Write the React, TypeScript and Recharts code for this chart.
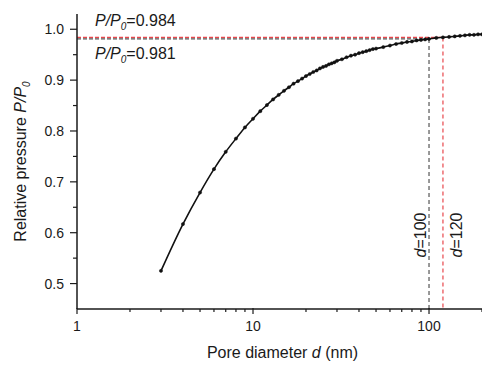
import React from 'react';
import { LineChart, Line, XAxis, YAxis, ReferenceLine } from 'recharts';

// pore diameter d (nm) and relative pressure
const diameters = [
    3, 4, 5, 6, 7, 8, 9, 10, 11, 12, 13, 14, 15, 16, 17, 18, 19, 20,
    21, 22, 23, 24, 25, 26, 27, 28, 29, 30, 32, 34, 36, 38, 40, 42, 44, 46, 48, 50,
    55, 60, 65, 70, 75, 80, 85, 90, 95, 100, 110, 120, 130, 140, 150, 160, 170, 180, 190, 200,
];
const pressures = [
    0.525, 0.617, 0.679, 0.725, 0.759, 0.785, 0.807, 0.824, 0.839, 0.851, 0.862, 0.871, 0.879, 0.886, 0.893, 0.898, 0.903, 0.908,
    0.912, 0.916, 0.919, 0.923, 0.926, 0.928, 0.931, 0.933, 0.935, 0.938, 0.941, 0.945, 0.948, 0.950, 0.953, 0.955, 0.957, 0.959, 0.961, 0.962,
    0.965, 0.968, 0.971, 0.973, 0.975, 0.976, 0.978, 0.979, 0.980, 0.981, 0.983, 0.984, 0.985, 0.986, 0.987, 0.988, 0.989, 0.989, 0.990, 0.990,
];

const xTicks = [1, 2, 3, 4, 5, 6, 7, 8, 9, 10, 20, 30, 40, 50, 60, 70, 80, 90, 100, 200];
const xLabels = [1, 10, 100];
const yTicks = [0.5, 0.55, 0.6, 0.65, 0.7, 0.75, 0.8, 0.85, 0.9, 0.95, 1.0];
const yLabels = [0.5, 0.6, 0.7, 0.8, 0.9, 1.0];

// d=100 text sits left of its line, d=120 text right of it
const cutoffs = [
    { d: 100, p: 0.981, color: '#555555', textDx: -3 },
    { d: 120, p: 0.984, color: '#e8474c', textDx: 19 },
];

const data = diameters.map((d, i) => ({ d, p: pressures[i] }));

const FONT = '"Liberation Sans", Arial, sans-serif';
const INK = '#1a1a1a';

const XTick = (props: any) => {
    const { x, y, payload } = props;
    const major = xLabels.includes(payload.value);
    return (
        <g>
            <line x1={x} x2={x} y1={y - (major ? 1 : 0)} y2={y + (major ? 5 : 3)} stroke={INK} strokeWidth={1.2} />
            {major && (
                <text x={x} y={y + 22} textAnchor="middle" fontSize={14} fontFamily={FONT} fill={INK}>
                    {payload.value}
                </text>
            )}
        </g>
    );
};

const YTick = (props: any) => {
    const { x, y, payload } = props;
    const major = yLabels.some((v) => Math.abs(v - payload.value) < 1e-6);
    return (
        <g>
            <line x1={x - (major ? 7 : 4)} x2={x} y1={y} y2={y} stroke={INK} strokeWidth={1.2} />
            {major && (
                <text x={x - 13} y={y + 5} textAnchor="end" fontSize={14} fontFamily={FONT} fill={INK}>
                    {payload.value.toFixed(1)}
                </text>
            )}
        </g>
    );
};

const PLabel = (value: string, above: boolean) => (props: any) => {
    const vb = props.viewBox || {};
    return (
        <text x={vb.x + 18} y={above ? vb.y - 11 : vb.y + 20} fontSize={16} fontFamily={FONT} fill={INK}>
            <tspan fontStyle="italic">P/P</tspan>
            <tspan fontStyle="italic" fontSize={10} dy={4}>0</tspan>
            <tspan dy={-4}>={value}</tspan>
        </text>
    );
};

const DLabel = (value: number, dx: number) => (props: any) => {
    const vb = props.viewBox || {};
    const cx = vb.x + dx;
    const cy = vb.y + vb.height - 74;
    return (
        <text x={cx} y={cy} transform={`rotate(-90, ${cx}, ${cy})`} textAnchor="middle" fontSize={16} fontFamily={FONT} fill={INK}>
            <tspan fontStyle="italic">d</tspan>={value}
        </text>
    );
};

const YTitle = (props: any) => {
    const vb = props.viewBox || {};
    const cx = 26;
    const cy = vb.y + vb.height / 2;
    return (
        <text x={cx} y={cy} transform={`rotate(-90, ${cx}, ${cy})`} textAnchor="middle" fontSize={16} fontFamily={FONT} fill={INK}>
            Relative pressure <tspan fontStyle="italic">P/P</tspan>
            <tspan fontStyle="italic" fontSize={10} dy={4}>0</tspan>
        </text>
    );
};

const XTitle = (props: any) => {
    const vb = props.viewBox || {};
    return (
        <text x={vb.x + vb.width / 2 + 3} y={vb.y + 49} textAnchor="middle" fontSize={16} fontFamily={FONT} fill={INK}>
            Pore diameter <tspan fontStyle="italic">d</tspan> (nm)
        </text>
    );
};

const App: React.FC = () => {
    const yMin = 0.45;
    return (
        <div style={{ position: 'absolute', left: 0, top: 0, background: '#fff' }}>
            <LineChart width={482} height={367} data={data} margin={{ top: 14, right: 0, left: 0, bottom: 0 }}>
                <XAxis
                    dataKey="d"
                    type="number"
                    scale="log"
                    domain={[1, 200]}
                    allowDataOverflow
                    ticks={xTicks}
                    interval={0}
                    tickSize={0}
                    tickMargin={0}
                    tickLine={false}
                    tick={<XTick />}
                    height={58}
                    axisLine={{ stroke: INK, strokeWidth: 1.5 }}
                    label={{ content: XTitle }}
                />
                <XAxis
                    xAxisId="top"
                    orientation="top"
                    dataKey="d"
                    type="number"
                    scale="log"
                    domain={[1, 200]}
                    allowDataOverflow
                    height={0}
                    tick={false}
                    tickLine={false}
                    axisLine={{ stroke: '#555', strokeWidth: 1.5 }}
                />
                <YAxis
                    type="number"
                    domain={[yMin, 1.03]}
                    allowDataOverflow
                    ticks={yTicks}
                    interval={0}
                    width={77}
                    tickSize={0}
                    tickMargin={0}
                    tickLine={false}
                    tick={<YTick />}
                    axisLine={{ stroke: INK, strokeWidth: 1.5 }}
                    label={{ content: YTitle }}
                />
                {cutoffs.map((c) => (
                    <ReferenceLine
                        key={`h${c.d}`}
                        segment={[{ x: 1, y: c.p }, { x: c.d, y: c.p }]}
                        stroke={c.color}
                        strokeWidth={1.1}
                        strokeDasharray="4 2"
                        label={{ content: PLabel(c.p.toFixed(3), c.d === 120) }}
                    />
                ))}
                {cutoffs.map((c) => (
                    <ReferenceLine
                        key={`v${c.d}`}
                        segment={[{ x: c.d, y: c.p }, { x: c.d, y: yMin }]}
                        stroke={c.color}
                        strokeWidth={1.2}
                        strokeDasharray="4 3"
                        label={{ content: DLabel(c.d, c.textDx) }}
                    />
                ))}
                <Line
                    type="monotone"
                    dataKey="p"
                    stroke="#111"
                    strokeWidth={1.6}
                    dot={{ r: 1.6, fill: '#111', stroke: '#111', strokeWidth: 0.5 }}
                    isAnimationActive={false}
                />
            </LineChart>
        </div>
    );
};

export default App;
